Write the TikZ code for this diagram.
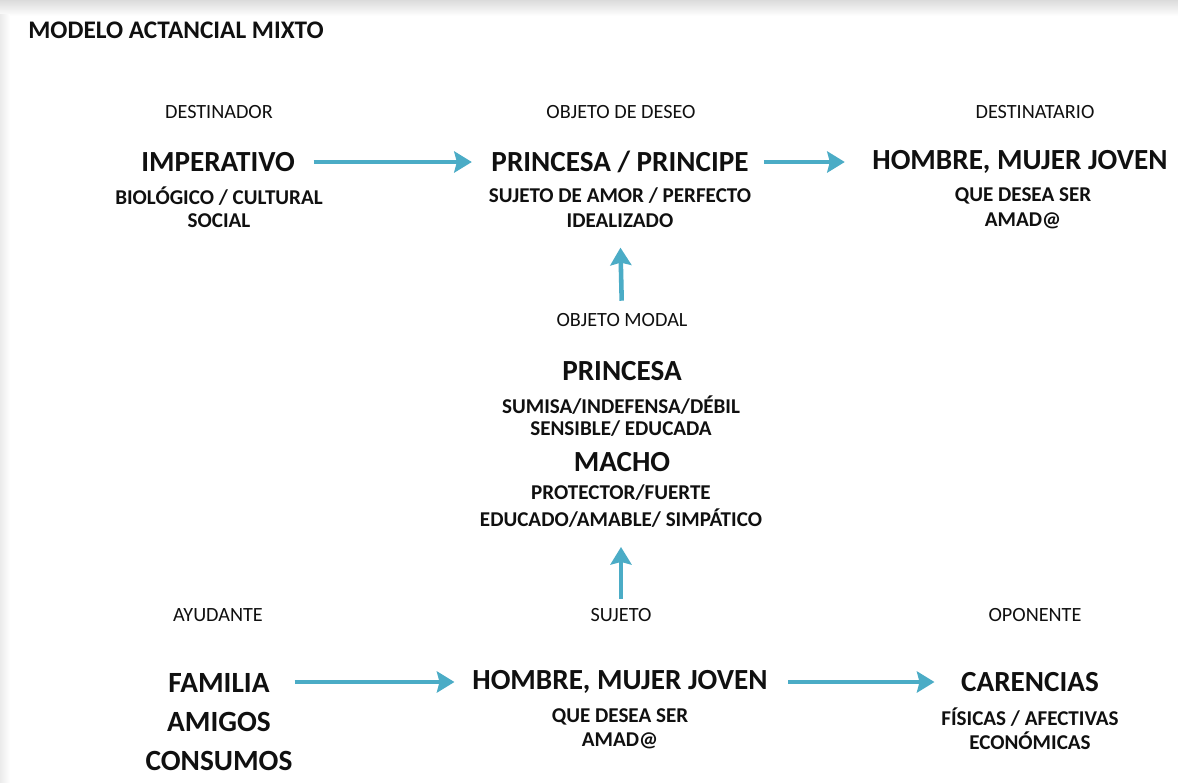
\documentclass[tikz,border=0pt]{standalone}
\usepackage{fontspec}
\setmainfont{Carlito}
\usetikzlibrary{arrows.meta}
\definecolor{azul}{HTML}{4BACC6}
\definecolor{tinta}{HTML}{101010}

\begin{document}
\begin{tikzpicture}[x=0.02cm,y=-0.02cm]
\tikzstyle{every node}+=[inner sep=0pt,text=tinta]
\tikzstyle{rol}=[font=\fontsize{11.5}{13}\selectfont]
\tikzstyle{actante}=[font=\fontsize{16.6}{18}\bfseries]
\tikzstyle{detalle}=[font=\fontsize{12}{14}\bfseries,align=center]
\tikzstyle{flecha}=[draw=azul,line width=2.6pt,-{Stealth[length=10pt,width=12pt,inset=1.5pt]}]
\useasboundingbox (0,0) rectangle (1178,782);
\fill[white] (0,0) rectangle (1178,782);
\shade[top color=black!14,bottom color=white] (0,0) rectangle (1178,16);
\shade[left color=black!8,right color=white] (0,14) rectangle (10,782);
% titulo
\node[anchor=west,font=\fontsize{14.4}{16}\bfseries] (titulo) at (28,30) {MODELO ACTANCIAL MIXTO};
% fila de arriba
\node[rol] (destinador) at (219,112) {DESTINADOR};
\node[rol] (deseo) at (621,112) {OBJETO DE DESEO};
\node[rol] (destinatario) at (1035,112) {DESTINATARIO};
\node[actante] (imperativo) at (218,162) {IMPERATIVO};
\node[detalle] (imperativo2) at (219,196) {BIOLÓGICO / CULTURAL};
\node[detalle] (imperativo3) at (219,221) {SOCIAL};
\node[actante] (principe) at (620,162) {PRINCESA / PRINCIPE};
\node[detalle] (principe2) at (620,196) {SUJETO DE AMOR / PERFECTO};
\node[detalle] (principe3) at (620,221) {IDEALIZADO};
\node[actante] (joven) at (1020,162) {HOMBRE, MUJER JOVEN};
\node[detalle] (joven2) at (1023,196) {QUE DESEA SER};
\node[detalle] (joven3) at (1023,221) {AMAD@};
% objeto modal
\node[rol] (modal) at (622,320) {OBJETO MODAL};
\node[actante] (princesa) at (622,371) {PRINCESA};
\node[detalle] (princesa2) at (621,405) {SUMISA/INDEFENSA/DÉBIL};
\node[detalle] (princesa3) at (621,429) {SENSIBLE/ EDUCADA};
\node[actante] (macho) at (622,462) {MACHO};
\node[detalle] (macho2) at (621,493) {PROTECTOR/FUERTE};
\node[detalle] (macho3) at (621,518) {EDUCADO/AMABLE/ SIMPÁTICO};
% fila de abajo
\node[rol] (ayudante) at (218,615) {AYUDANTE};
\node[rol] (sujeto) at (621,615) {SUJETO};
\node[rol] (oponente) at (1035,615) {OPONENTE};
\node[font=\fontsize{16.7}{20}\bfseries,align=center] (familia) at (219,722) {FAMILIA\\[2pt]AMIGOS\\[2pt]CONSUMOS};
\node[actante] (hombre) at (620,682) {HOMBRE, MUJER JOVEN};
\node[detalle] (hombre2) at (620,717) {QUE DESEA SER};
\node[detalle] (hombre3) at (620,741) {AMAD@};
\node[actante] (carencias) at (1030,682) {CARENCIAS};
\node[detalle] (carencias2) at (1030,717) {FÍSICAS / AFECTIVAS};
\node[detalle] (carencias3) at (1030,741) {ECONÓMICAS};
% flechas
\draw[flecha,shorten <=10.5pt,shorten >=11pt] (imperativo.east) -- (principe.west);
\draw[flecha,shorten <=8.5pt,shorten >=15.5pt] (principe.east) -- (joven.west);
\draw[flecha,shorten <=7pt,shorten >=11pt] (modal.north) -- (principe3.south);
\draw[flecha,shorten <=5pt,shorten >=11pt] (sujeto.north) -- (macho3.south);
\draw[flecha,shorten <=1pt,shorten >=10pt] (familia.east|-hombre.west) -- (hombre.west);
\draw[flecha,shorten <=11.5pt,shorten >=15pt] (hombre.east) -- (carencias.west);
\end{tikzpicture}
\end{document}
